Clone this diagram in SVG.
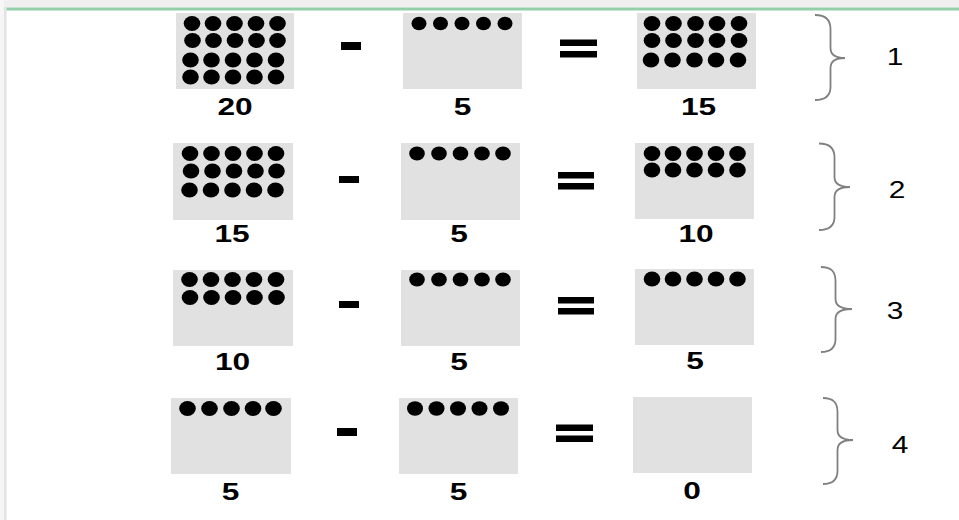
<svg xmlns="http://www.w3.org/2000/svg" width="959" height="520" viewBox="0 0 959 520">
<style>
.box{fill:#e1e1e1}
.d{fill:#000}
.op{fill:#000}
.lb{font-family:"Liberation Sans",Arial,sans-serif;font-weight:bold;font-size:24px;fill:#000;text-anchor:middle}
.rl{font-family:"Liberation Sans",Arial,sans-serif;font-size:23px;fill:#000;text-anchor:middle}
.br{fill:none;stroke:#808080;stroke-width:1.8}
</style>
<rect x="0" y="0" width="959" height="520" fill="#fff"/>
<rect x="0" y="0" width="959" height="7.5" fill="#f0f0f0"/>
<rect x="0" y="0" width="4" height="520" fill="#f6f6f6"/>
<rect x="4" y="7" width="2.5" height="513" fill="#e2e2e2"/>
<rect x="6.5" y="7.5" width="952.5" height="3" fill="#93cfa9"/>

<g id="row1">
  <g id="r1a">
    <rect class="box" x="176" y="13" width="118" height="76"/>
    <g class="d">
      <ellipse cx="192" cy="23.5" rx="8.3" ry="7.5"/><ellipse cx="213" cy="23.5" rx="8.3" ry="7.5"/><ellipse cx="234.5" cy="23.5" rx="8.3" ry="7.5"/><ellipse cx="256" cy="23.5" rx="8.3" ry="7.5"/><ellipse cx="277.5" cy="23.5" rx="8.3" ry="7.5"/>
      <ellipse cx="192.5" cy="40.5" rx="8.3" ry="7.5"/><ellipse cx="213.5" cy="40.5" rx="8.3" ry="7.5"/><ellipse cx="235" cy="40.5" rx="8.3" ry="7.5"/><ellipse cx="256.5" cy="40.5" rx="8.3" ry="7.5"/><ellipse cx="277.5" cy="40.5" rx="8.3" ry="7.5"/>
      <ellipse cx="190.5" cy="60" rx="8.3" ry="7.5"/><ellipse cx="211.5" cy="60" rx="8.3" ry="7.5"/><ellipse cx="233" cy="60" rx="8.3" ry="7.5"/><ellipse cx="254.5" cy="60" rx="8.3" ry="7.5"/><ellipse cx="276" cy="60" rx="8.3" ry="7.5"/>
      <ellipse cx="190.5" cy="77" rx="8.3" ry="7.5"/><ellipse cx="211.5" cy="77" rx="8.3" ry="7.5"/><ellipse cx="233" cy="77" rx="8.3" ry="7.5"/><ellipse cx="254.5" cy="77" rx="8.3" ry="7.5"/><ellipse cx="276" cy="77" rx="8.3" ry="7.5"/>
    </g>
    <text class="lb" transform="translate(235,114.5) scale(1.32,1)">20</text>
  </g>
  <rect id="r1minus" class="op" x="341" y="42" width="20" height="8"/>
  <g id="r1b">
    <rect class="box" x="403" y="13" width="119" height="76"/>
    <g class="d">
      <ellipse cx="419" cy="23.5" rx="7.5" ry="6.8"/><ellipse cx="440.5" cy="23.5" rx="7.5" ry="6.8"/><ellipse cx="462" cy="23.5" rx="7.5" ry="6.8"/><ellipse cx="483.5" cy="23.5" rx="7.5" ry="6.8"/><ellipse cx="505" cy="23.5" rx="7.5" ry="6.8"/>
    </g>
    <text class="lb" transform="translate(462.5,114.5) scale(1.32,1)">5</text>
  </g>
  <g id="r1eq" class="op"><rect x="560" y="39.5" width="37" height="6.5"/><rect x="560" y="51" width="37" height="6.5"/></g>
  <g id="r1c">
    <rect class="box" x="637" y="13" width="119" height="76"/>
    <g class="d">
      <ellipse cx="652" cy="23.5" rx="8.3" ry="7.5"/><ellipse cx="673.5" cy="23.5" rx="8.3" ry="7.5"/><ellipse cx="695.5" cy="23.5" rx="8.3" ry="7.5"/><ellipse cx="717" cy="23.5" rx="8.3" ry="7.5"/><ellipse cx="739" cy="23.5" rx="8.3" ry="7.5"/>
      <ellipse cx="652" cy="40.5" rx="8.3" ry="7.5"/><ellipse cx="673.5" cy="40.5" rx="8.3" ry="7.5"/><ellipse cx="695.5" cy="40.5" rx="8.3" ry="7.5"/><ellipse cx="717" cy="40.5" rx="8.3" ry="7.5"/><ellipse cx="739" cy="40.5" rx="8.3" ry="7.5"/>
      <ellipse cx="651" cy="60" rx="8.3" ry="7.5"/><ellipse cx="672.5" cy="60" rx="8.3" ry="7.5"/><ellipse cx="694.5" cy="60" rx="8.3" ry="7.5"/><ellipse cx="716" cy="60" rx="8.3" ry="7.5"/><ellipse cx="738" cy="60" rx="8.3" ry="7.5"/>
    </g>
    <text class="lb" transform="translate(698.5,114.5) scale(1.32,1)">15</text>
  </g>
  <g id="brace1">
    <path class="br" d="M815,15 C825,15 830.5,19 830.5,29 L830.5,48 C830.5,55 836,58 845,58 C836,58 830.5,61 830.5,68 L830.5,87 C830.5,96 825,100 815,100"/>
    <text class="rl" transform="translate(895,65) scale(1.3,1)">1</text>
  </g>
</g>

<g id="row2">
  <g id="r2a">
    <rect class="box" x="173" y="143" width="120" height="77"/>
    <g class="d">
      <ellipse cx="190" cy="153.5" rx="8.3" ry="7.5"/><ellipse cx="211.5" cy="153.5" rx="8.3" ry="7.5"/><ellipse cx="233" cy="153.5" rx="8.3" ry="7.5"/><ellipse cx="254.5" cy="153.5" rx="8.3" ry="7.5"/><ellipse cx="276" cy="153.5" rx="8.3" ry="7.5"/>
      <ellipse cx="191" cy="171" rx="8.3" ry="7.5"/><ellipse cx="212.5" cy="171" rx="8.3" ry="7.5"/><ellipse cx="234" cy="171" rx="8.3" ry="7.5"/><ellipse cx="255.5" cy="171" rx="8.3" ry="7.5"/><ellipse cx="276.5" cy="171" rx="8.3" ry="7.5"/>
      <ellipse cx="189.5" cy="190" rx="8.3" ry="7.5"/><ellipse cx="211" cy="190" rx="8.3" ry="7.5"/><ellipse cx="232.5" cy="190" rx="8.3" ry="7.5"/><ellipse cx="254" cy="190" rx="8.3" ry="7.5"/><ellipse cx="275.5" cy="190" rx="8.3" ry="7.5"/>
    </g>
    <text class="lb" transform="translate(232,242) scale(1.32,1)">15</text>
  </g>
  <rect id="r2minus" class="op" x="339" y="176" width="20" height="7"/>
  <g id="r2b">
    <rect class="box" x="401" y="143" width="119" height="77"/>
    <g class="d">
      <ellipse cx="417" cy="153.5" rx="7.8" ry="7"/><ellipse cx="439" cy="153.5" rx="7.8" ry="7"/><ellipse cx="460.5" cy="153.5" rx="7.8" ry="7"/><ellipse cx="482" cy="153.5" rx="7.8" ry="7"/><ellipse cx="503" cy="153.5" rx="7.8" ry="7"/>
    </g>
    <text class="lb" transform="translate(459,242) scale(1.32,1)">5</text>
  </g>
  <g id="r2eq" class="op"><rect x="558" y="172" width="36" height="6.5"/><rect x="558" y="183" width="36" height="6.5"/></g>
  <g id="r2c">
    <rect class="box" x="635" y="143" width="119" height="76"/>
    <g class="d">
      <ellipse cx="652" cy="153.5" rx="8.3" ry="7.5"/><ellipse cx="673" cy="153.5" rx="8.3" ry="7.5"/><ellipse cx="694.5" cy="153.5" rx="8.3" ry="7.5"/><ellipse cx="716" cy="153.5" rx="8.3" ry="7.5"/><ellipse cx="737.5" cy="153.5" rx="8.3" ry="7.5"/>
      <ellipse cx="652" cy="170" rx="8.3" ry="7.5"/><ellipse cx="673" cy="170" rx="8.3" ry="7.5"/><ellipse cx="694.5" cy="170" rx="8.3" ry="7.5"/><ellipse cx="716" cy="170" rx="8.3" ry="7.5"/><ellipse cx="737.5" cy="170" rx="8.3" ry="7.5"/>
    </g>
    <text class="lb" transform="translate(696,242) scale(1.32,1)">10</text>
  </g>
  <g id="brace2">
    <path class="br" d="M819,143.5 C829,143.5 834.5,147.5 834.5,157.5 L834.5,177 C834.5,184 840,187 850,187 C840,187 834.5,190 834.5,197 L834.5,217 C834.5,226 829,230 819,230"/>
    <text class="rl" transform="translate(897,197.5) scale(1.3,1)">2</text>
  </g>
</g>

<g id="row3">
  <g id="r3a">
    <rect class="box" x="173" y="270" width="120" height="76"/>
    <g class="d">
      <ellipse cx="189.5" cy="279.5" rx="8.3" ry="7.5"/><ellipse cx="211" cy="279.5" rx="8.3" ry="7.5"/><ellipse cx="232.5" cy="279.5" rx="8.3" ry="7.5"/><ellipse cx="254" cy="279.5" rx="8.3" ry="7.5"/><ellipse cx="276" cy="279.5" rx="8.3" ry="7.5"/>
      <ellipse cx="190" cy="297.5" rx="8.3" ry="7.5"/><ellipse cx="211.5" cy="297.5" rx="8.3" ry="7.5"/><ellipse cx="233" cy="297.5" rx="8.3" ry="7.5"/><ellipse cx="254.5" cy="297.5" rx="8.3" ry="7.5"/><ellipse cx="276.5" cy="297.5" rx="8.3" ry="7.5"/>
    </g>
    <text class="lb" transform="translate(232.5,369.5) scale(1.32,1)">10</text>
  </g>
  <rect id="r3minus" class="op" x="339" y="301" width="20" height="7"/>
  <g id="r3b">
    <rect class="box" x="401" y="270" width="119" height="76"/>
    <g class="d">
      <ellipse cx="417" cy="279.5" rx="7.8" ry="7"/><ellipse cx="439" cy="279.5" rx="7.8" ry="7"/><ellipse cx="460.5" cy="279.5" rx="7.8" ry="7"/><ellipse cx="482" cy="279.5" rx="7.8" ry="7"/><ellipse cx="503" cy="279.5" rx="7.8" ry="7"/>
    </g>
    <text class="lb" transform="translate(459,369.5) scale(1.32,1)">5</text>
  </g>
  <g id="r3eq" class="op"><rect x="558" y="297" width="36" height="6.5"/><rect x="558" y="308" width="36" height="6.5"/></g>
  <g id="r3c">
    <rect class="box" x="635" y="269" width="119" height="76"/>
    <g class="d">
      <ellipse cx="652" cy="279" rx="8.3" ry="7.5"/><ellipse cx="673" cy="279" rx="8.3" ry="7.5"/><ellipse cx="694.5" cy="279" rx="8.3" ry="7.5"/><ellipse cx="716" cy="279" rx="8.3" ry="7.5"/><ellipse cx="737.5" cy="279" rx="8.3" ry="7.5"/>
    </g>
    <text class="lb" transform="translate(695,368.5) scale(1.32,1)">5</text>
  </g>
  <g id="brace3">
    <path class="br" d="M821,267 C831,267 835.5,271 835.5,281 L835.5,299 C835.5,306 841,309 852,309 C841,309 835.5,312 835.5,319 L835.5,339 C835.5,348 831,352 821,352"/>
    <text class="rl" transform="translate(895,319) scale(1.3,1)">3</text>
  </g>
</g>

<g id="row4">
  <g id="r4a">
    <rect class="box" x="171" y="398" width="120" height="76"/>
    <g class="d">
      <ellipse cx="187.5" cy="408.5" rx="8.3" ry="7.5"/><ellipse cx="209.5" cy="408.5" rx="8.3" ry="7.5"/><ellipse cx="231.5" cy="408.5" rx="8.3" ry="7.5"/><ellipse cx="253" cy="408.5" rx="8.3" ry="7.5"/><ellipse cx="273.5" cy="408.5" rx="8.3" ry="7.5"/>
    </g>
    <text class="lb" transform="translate(230.5,500) scale(1.32,1)">5</text>
  </g>
  <rect id="r4minus" class="op" x="337" y="428" width="20" height="8"/>
  <g id="r4b">
    <rect class="box" x="399" y="398" width="119" height="76"/>
    <g class="d">
      <ellipse cx="415" cy="408.5" rx="8" ry="7.3"/><ellipse cx="436.5" cy="408.5" rx="8" ry="7.3"/><ellipse cx="458" cy="408.5" rx="8" ry="7.3"/><ellipse cx="479.5" cy="408.5" rx="8" ry="7.3"/><ellipse cx="501" cy="408.5" rx="8" ry="7.3"/>
    </g>
    <text class="lb" transform="translate(458.5,500) scale(1.32,1)">5</text>
  </g>
  <g id="r4eq" class="op"><rect x="556" y="424.5" width="37" height="6.5"/><rect x="556" y="435.5" width="37" height="6.5"/></g>
  <g id="r4c">
    <rect class="box" x="633" y="397" width="119" height="76"/>
    <text class="lb" transform="translate(692,498.5) scale(1.32,1)">0</text>
  </g>
  <g id="brace4">
    <path class="br" d="M823,398 C833,398 837.5,402 837.5,412 L837.5,430 C837.5,437 843,440 853,440 C843,440 837.5,443 837.5,450 L837.5,471 C837.5,480 833,484 823,484"/>
    <text class="rl" transform="translate(900,452.5) scale(1.3,1)">4</text>
  </g>
</g>
<g id="connectors"/>
</svg>
